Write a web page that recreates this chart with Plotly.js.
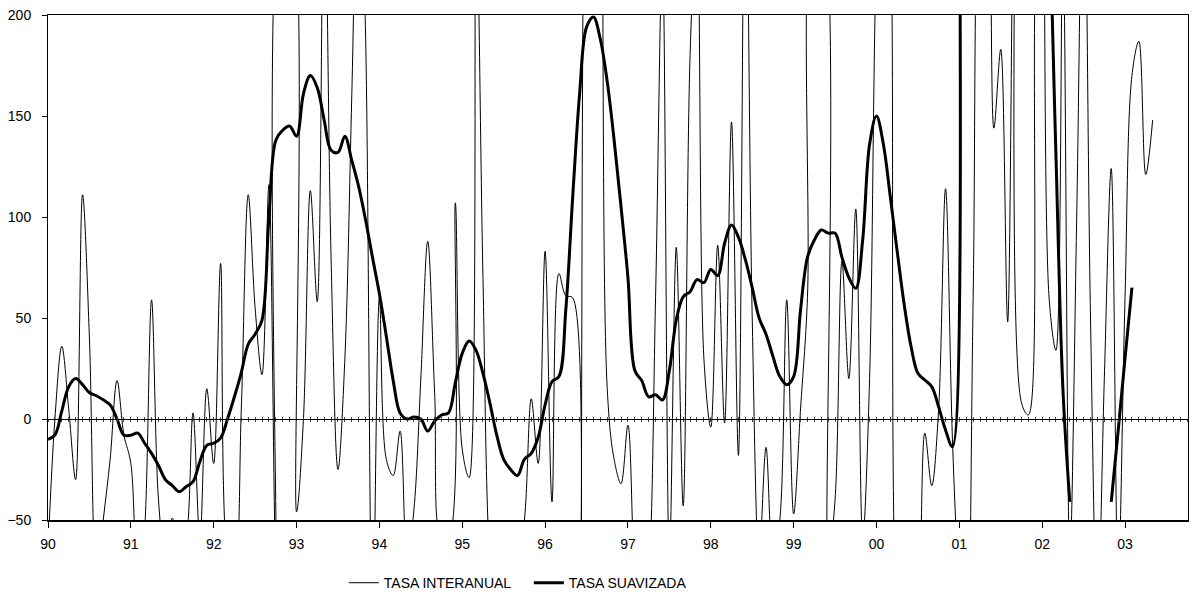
<!DOCTYPE html>
<html>
<head>
<meta charset="utf-8">
<script src="https://cdn.plot.ly/plotly-3.0.1.min.js"></script>
<style>
  html, body { margin: 0; padding: 0; background: #fff; }
  #chart { width: 1202px; height: 602px; }
</style>
</head>
<body>
<div id="chart"></div>
<script>
// Monthly series, January 1990 onwards
const startYear = 1990;

// TASA INTERANUAL (thin line), one value per month, Jan-1990 .. May-2003
const tasaInteranual = [
  -65, 0, 36, 5, -30, 111, 40, -80, -50, -20, 19, -8,
  -22, -90, -55, 59, -40, -70, -49, -70, -60, 3, -60, 15,
  -22, 77, -70, -80, 5, 111, 55, 22, 116, -70, 260, 260,
  -46, 0, 113, 58, 280, 80, -25, 30, 160, 300, 190, -110,
  60, -20, -28, -6, -70, -45, 20, 88, 13, -60, -60, 107,
  -15, -29, 260, 70, -70, -100, -110, -100, -70, -50, 10, -22,
  83, -41, 72, 61, 60, -150, 350, 400, 330, 15, -20, -32,
  -3, -80, -110, -80, 60, 230, -70, 85, -43, 180, 250, 30,
  -4, 86, -2, 147, -18, 300, 50, -70, -14, -70, -50, 59,
  -47, 5, 60, 250, 250, -70, -40, 78, 20, 104, -60, 20,
  230, 300, 250, -100, -120, -120, -100, -7, -33, 5, 114, -10,
  -90, -150, 60, 280, 300, 144, 183, 48, 300, 8, 2, 220,
  300, 60, 34, 240, -70, 100, 300, 50, -100, 20, 124, -80,
  60, 170, 187, 121, 148
];

// TASA SUAVIZADA (thick line), Jan-1990 .. Feb-2003 (null = missing)
const tasaSuavizada = [
  -10, -8, 4, 16, 20, 17, 13, 11.5, 9.5, 7, 0, -8,
  -8, -7, -12, -17, -23, -30, -33, -36, -33.5, -31, -21, -13,
  -12, -9.5, 0, 11, 23, 37, 42, 49, 100, 138, 143, 145,
  140, 161, 170, 164, 148, 133, 132, 140, 128, 115, 98.5, 80,
  62, 41, 19, 3, 0, 1, 0, -6, -1, 2, 3, 18,
  32.5, 38.6, 34, 22.6, 8, -8, -20, -25, -28, -20, -17, -9,
  7, 18.5, 21, 54, 110, 161, 194, 199, 188, 167, 138, 105,
  70, 24, 19, 11, 12, 9.4, 24, 49, 60.5, 63, 69, 67.5,
  74, 71, 87, 96, 90, 79, 65, 50, 42, 31, 21, 17,
  21, 54, 80, 88.6, 93.6, 92, 92, 80, 70, 64.7, 88.6, 136,
  150, 136, 110, 83, 57, 36, 22.6, 19.3, 16, 6, -5.4, -13.7,
  600, 650, 680, 700, 700, 690, 680, 670, 660, 650, 620, 560,
  450, 260, 130, 15, -41, null, null, null, null, null, -41, -6,
  30, 65
];

const tickYears = [1990, 1991, 1992, 1993, 1994, 1995, 1996, 1997, 1998, 1999, 2000, 2001, 2002, 2003];
const tickLabels = ['90', '91', '92', '93', '94', '95', '96', '97', '98', '99', '00', '01', '02', '03'];
const yTicks = [-50, 0, 50, 100, 150, 200];

const monthPos = arr => arr.map((_, i) => startYear + i / 12);

const FONT = 'Liberation Sans, Arial, sans-serif';
const xRange = [1990, 2003.76];

const traces = [
  {
    name: 'TASA INTERANUAL',
    x: monthPos(tasaInteranual),
    y: tasaInteranual,
    type: 'scatter',
    mode: 'lines',
    line: { color: '#000000', width: 1, shape: 'spline', smoothing: 1 },
    hoverinfo: 'skip'
  },
  {
    name: 'TASA SUAVIZADA',
    x: monthPos(tasaSuavizada),
    y: tasaSuavizada,
    type: 'scatter',
    mode: 'lines',
    connectgaps: false,
    line: { color: '#000000', width: 3, shape: 'spline', smoothing: 1 },
    hoverinfo: 'skip'
  },
  { x: [], y: [], xaxis: 'x2', type: 'scatter', showlegend: false, hoverinfo: 'skip' },
  { x: [], y: [], xaxis: 'x3', type: 'scatter', showlegend: false, hoverinfo: 'skip' }
];

const layout = {
  width: 1202,
  height: 602,
  margin: { l: 48, r: 14, t: 15, b: 82, autoexpand: false },
  paper_bgcolor: '#ffffff',
  plot_bgcolor: '#ffffff',
  font: { family: FONT, size: 14, color: '#000000' },
  showlegend: true,
  legend: {
    orientation: 'h',
    x: 0.2595, xanchor: 'left',
    y: -0.125, yanchor: 'middle',
    entrywidth: 140, entrywidthmode: 'pixels',
    font: { family: FONT, size: 14, color: '#000000' },
    bgcolor: 'rgba(0,0,0,0)'
  },
  xaxis: {
    range: xRange,
    tickvals: tickYears,
    ticktext: tickLabels,
    ticks: 'outside',
    ticklen: 6,
    tickwidth: 1,
    tickcolor: '#000000',
    ticklabelstandoff: 5,
    showline: true,
    linecolor: '#000000',
    linewidth: 1.5,
    mirror: true,
    showgrid: false,
    zeroline: false,
    automargin: false,
    tickfont: { family: FONT, size: 14, color: '#000000' }
  },
  xaxis2: {
    overlaying: 'x', anchor: 'free', position: 0.2,
    range: xRange, tick0: 1990, dtick: 1 / 12,
    ticks: 'outside', ticklen: 2, tickwidth: 1, tickcolor: '#444444',
    showticklabels: false, showline: false, showgrid: false, zeroline: false
  },
  xaxis3: {
    overlaying: 'x', anchor: 'free', position: 0.2, side: 'bottom',
    range: xRange, tick0: 1990, dtick: 1 / 12,
    ticks: 'inside', ticklen: 2, tickwidth: 1, tickcolor: '#444444',
    showticklabels: false, showline: false, showgrid: false, zeroline: false
  },
  yaxis: {
    range: [-50, 200],
    tickvals: yTicks,
    ticks: 'outside',
    ticklen: 5,
    tickwidth: 1,
    tickcolor: '#000000',
    ticklabelstandoff: 8,
    showline: true,
    linecolor: '#000000',
    linewidth: 1,
    mirror: true,
    showgrid: false,
    zeroline: true,
    zerolinecolor: '#000000',
    zerolinewidth: 1,
    automargin: false,
    tickfont: { family: FONT, size: 14, color: '#000000' }
  }
};

Plotly.newPlot('chart', traces, layout, { displayModeBar: false, staticPlot: true });
</script>
</body>
</html>
